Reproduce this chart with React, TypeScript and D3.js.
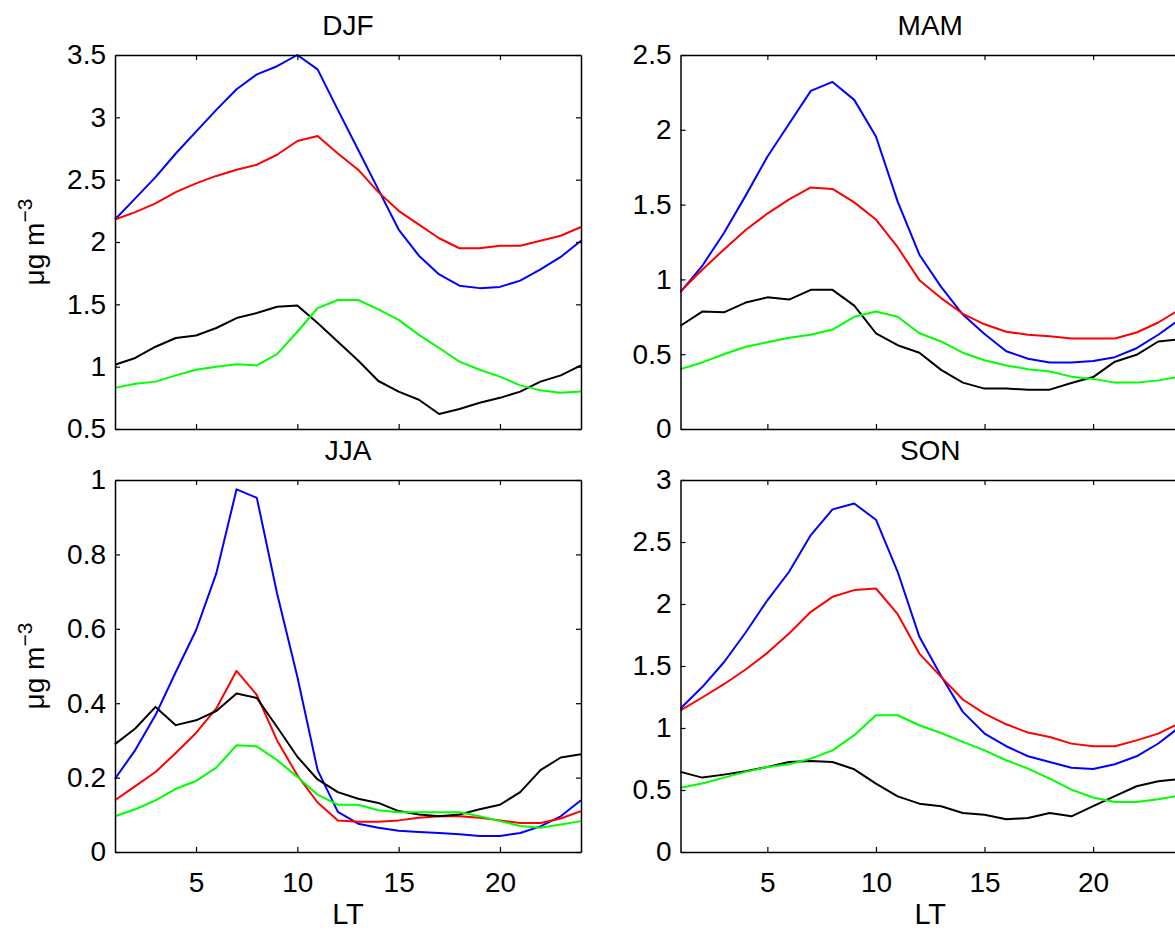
import React, { useRef, useEffect } from "react";
import * as d3 from "d3";

// local time (hours)
const hours = [1, 2, 3, 4, 5, 6, 7, 8, 9, 10, 11, 12, 13, 14, 15, 16, 17, 18, 19, 20, 21, 22, 23, 24];
const xTicks = [5, 10, 15, 20];

// DJF
const djfBlue = [2.18, 2.35, 2.52, 2.71, 2.885, 3.06, 3.225, 3.345, 3.41, 3.5, 3.385, 3.06, 2.74, 2.42, 2.1, 1.89, 1.74, 1.65, 1.63, 1.64, 1.69, 1.78, 1.88, 2.01];
const djfRed = [2.18, 2.24, 2.31, 2.4, 2.47, 2.53, 2.58, 2.62, 2.7, 2.81, 2.85, 2.71, 2.58, 2.4, 2.25, 2.14, 2.03, 1.95, 1.95, 1.97, 1.97, 2.01, 2.05, 2.12];
const djfBlack = [1.015, 1.07, 1.16, 1.23, 1.25, 1.31, 1.39, 1.43, 1.48, 1.49, 1.35, 1.2, 1.05, 0.885, 0.8, 0.735, 0.62, 0.66, 0.71, 0.75, 0.8, 0.88, 0.93, 1.01];
const djfGreen = [0.83, 0.863, 0.88, 0.93, 0.975, 1.0, 1.02, 1.01, 1.1, 1.28, 1.47, 1.535, 1.535, 1.46, 1.375, 1.255, 1.15, 1.04, 0.975, 0.92, 0.85, 0.81, 0.79, 0.8];
const djfTicks = [0.5, 1, 1.5, 2, 2.5, 3, 3.5];

// MAM
const mamBlue = [0.915, 1.09, 1.31, 1.56, 1.82, 2.04, 2.26, 2.32, 2.2, 1.955, 1.52, 1.165, 0.95, 0.765, 0.635, 0.52, 0.47, 0.445, 0.445, 0.455, 0.48, 0.54, 0.63, 0.735];
const mamRed = [0.92, 1.065, 1.2, 1.33, 1.44, 1.535, 1.615, 1.605, 1.515, 1.4, 1.215, 0.995, 0.875, 0.77, 0.7, 0.65, 0.63, 0.62, 0.605, 0.605, 0.605, 0.645, 0.712, 0.8];
const mamBlack = [0.69, 0.785, 0.78, 0.845, 0.88, 0.865, 0.93, 0.93, 0.825, 0.64, 0.56, 0.51, 0.395, 0.31, 0.27, 0.27, 0.263, 0.263, 0.307, 0.347, 0.45, 0.496, 0.585, 0.6];
const mamGreen = [0.4, 0.445, 0.5, 0.55, 0.58, 0.61, 0.63, 0.665, 0.75, 0.785, 0.75, 0.64, 0.585, 0.51, 0.46, 0.425, 0.4, 0.385, 0.35, 0.335, 0.31, 0.31, 0.325, 0.35];
const mamTicks = [0, 0.5, 1, 1.5, 2, 2.5];

// JJA
const jjaBlue = [0.197, 0.274, 0.368, 0.484, 0.596, 0.749, 0.975, 0.952, 0.695, 0.471, 0.22, 0.108, 0.076, 0.065, 0.057, 0.054, 0.051, 0.048, 0.043, 0.043, 0.051, 0.069, 0.096, 0.139];
const jjaRed = [0.139, 0.177, 0.215, 0.266, 0.32, 0.386, 0.487, 0.422, 0.3, 0.206, 0.133, 0.085, 0.081, 0.081, 0.085, 0.092, 0.096, 0.096, 0.092, 0.085, 0.078, 0.078, 0.09, 0.11];
const jjaBlack = [0.29, 0.332, 0.39, 0.341, 0.354, 0.379, 0.426, 0.414, 0.336, 0.256, 0.195, 0.161, 0.143, 0.132, 0.11, 0.101, 0.096, 0.101, 0.115, 0.127, 0.161, 0.22, 0.254, 0.263];
const jjaGreen = [0.096, 0.115, 0.139, 0.17, 0.191, 0.227, 0.287, 0.284, 0.247, 0.202, 0.154, 0.127, 0.127, 0.112, 0.107, 0.107, 0.107, 0.107, 0.096, 0.083, 0.07, 0.065, 0.074, 0.083];
const jjaTicks = [0, 0.2, 0.4, 0.6, 0.8, 1];

// SON
const sonBlue = [1.157, 1.33, 1.53, 1.77, 2.03, 2.26, 2.556, 2.763, 2.81, 2.68, 2.26, 1.735, 1.42, 1.13, 0.955, 0.853, 0.772, 0.726, 0.68, 0.67, 0.708, 0.772, 0.875, 1.01];
const sonRed = [1.143, 1.246, 1.353, 1.472, 1.606, 1.762, 1.937, 2.058, 2.112, 2.125, 1.918, 1.6, 1.412, 1.23, 1.116, 1.03, 0.963, 0.928, 0.874, 0.853, 0.853, 0.9, 0.955, 1.04];
const sonBlack = [0.646, 0.6, 0.624, 0.651, 0.686, 0.726, 0.734, 0.726, 0.667, 0.552, 0.449, 0.39, 0.369, 0.315, 0.3, 0.264, 0.274, 0.315, 0.288, 0.37, 0.45, 0.53, 0.57, 0.59];
const sonGreen = [0.519, 0.552, 0.6, 0.646, 0.686, 0.708, 0.753, 0.82, 0.942, 1.103, 1.103, 1.022, 0.96, 0.888, 0.82, 0.74, 0.673, 0.592, 0.503, 0.439, 0.404, 0.404, 0.425, 0.457];
const sonTicks = [0, 0.5, 1, 1.5, 2, 2.5, 3];

const FONT = "'Liberation Sans', Arial, Helvetica, sans-serif";

const panels = [
  { title: "DJF", ticks: djfTicks, series: [djfBlue, djfRed, djfBlack, djfGreen], box: [115, 581, 55, 429], ylabel: true, xlabels: false },
  { title: "MAM", ticks: mamTicks, series: [mamBlue, mamRed, mamBlack, mamGreen], box: [680.5, 1180, 55, 429], ylabel: false, xlabels: false },
  { title: "JJA", ticks: jjaTicks, series: [jjaBlue, jjaRed, jjaBlack, jjaGreen], box: [115, 581, 480, 852], ylabel: true, xlabels: true },
  { title: "SON", ticks: sonTicks, series: [sonBlue, sonRed, sonBlack, sonGreen], box: [680.5, 1180, 480, 852], ylabel: false, xlabels: true },
];
const colors = ["#0000ff", "#ff0000", "#000000", "#00ff00"];

function App() {
  const svgRef = useRef<SVGSVGElement>(null);

  useEffect(() => {
    const svg = d3.select(svgRef.current);
    svg.selectAll("*").remove();

    panels.forEach((p) => {
      const [x0, x1, y0, y1] = p.box;
      const x = d3.scaleLinear().domain([1, 24]).range([x0, x1]);
      const ticks = p.ticks;
      const y = d3
        .scaleLinear()
        .domain([ticks[0], ticks[ticks.length - 1]])
        .range([y1, y0]);

      const g = svg.append("g");

      // data lines
      const myLine = d3
        .line<number>()
        .x((v, i) => x(hours[i]))
        .y((v) => y(v));
      p.series.forEach((s, k) => {
        g.append("path")
          .attr("d", myLine(s))
          .attr("fill", "none")
          .attr("stroke", colors[k])
          .attr("stroke-width", 2)
          .attr("stroke-linejoin", "round");
      });

      // axes, ticks pointing inwards like matlab
      const left = g
        .append("g")
        .attr("transform", `translate(${x0},0)`)
        .call(
          d3.axisLeft(y).tickValues(ticks).tickSizeInner(-5).tickSizeOuter(0).tickPadding(9).tickFormat((d) => String(d))
        );
      const right = g
        .append("g")
        .attr("transform", `translate(${x1},0)`)
        .call(d3.axisRight(y).tickValues(ticks).tickSizeInner(-5).tickSizeOuter(0).tickFormat(() => ""));
      const top = g
        .append("g")
        .attr("transform", `translate(0,${y0})`)
        .call(d3.axisTop(x).tickValues(xTicks).tickSizeInner(-5).tickSizeOuter(0).tickFormat(() => ""));
      const bottom = g
        .append("g")
        .attr("transform", `translate(0,${y1})`)
        .call(
          d3
            .axisBottom(x)
            .tickValues(xTicks)
            .tickSizeInner(-5)
            .tickSizeOuter(0)
            .tickPadding(20)
            .tickFormat((d) => (p.xlabels ? String(d) : ""))
        );

      [left, right, top, bottom].forEach((a) => {
        a.attr("font-family", FONT).attr("font-size", 28);
        a.select(".domain").attr("stroke", "#000").attr("stroke-width", 1.5);
        a.selectAll(".tick line").attr("stroke", "#000").attr("stroke-width", 1.2);
        a.selectAll(".tick text").attr("fill", "#000");
      });
      bottom.selectAll(".tick text").attr("dy", "0.71em");

      // title
      g.append("text")
        .attr("x", (x0 + x1) / 2)
        .attr("y", y0 - 20)
        .attr("text-anchor", "middle")
        .attr("font-family", FONT)
        .attr("font-size", 28)
        .text(p.title);

      if (p.xlabels) {
        g.append("text")
          .attr("x", (x0 + x1) / 2)
          .attr("y", y1 + 72)
          .attr("text-anchor", "middle")
          .attr("font-family", FONT)
          .attr("font-size", 29)
          .text("LT");
      }

      if (p.ylabel) {
        const t = g
          .append("text")
          .attr("transform", `translate(44,${(y0 + y1) / 2}) rotate(-90)`)
          .attr("text-anchor", "middle")
          .attr("font-family", FONT)
          .attr("font-size", 28);
        t.append("tspan").text("μg m");
        t.append("tspan").attr("dy", -12).attr("font-size", 21).text("−3");
      }
    });
  }, []);

  return (
    <svg
      ref={svgRef}
      width={1175}
      height={930}
      style={{ position: "absolute", left: 0, top: 0, background: "#fff" }}
    />
  );
}

export default App;
